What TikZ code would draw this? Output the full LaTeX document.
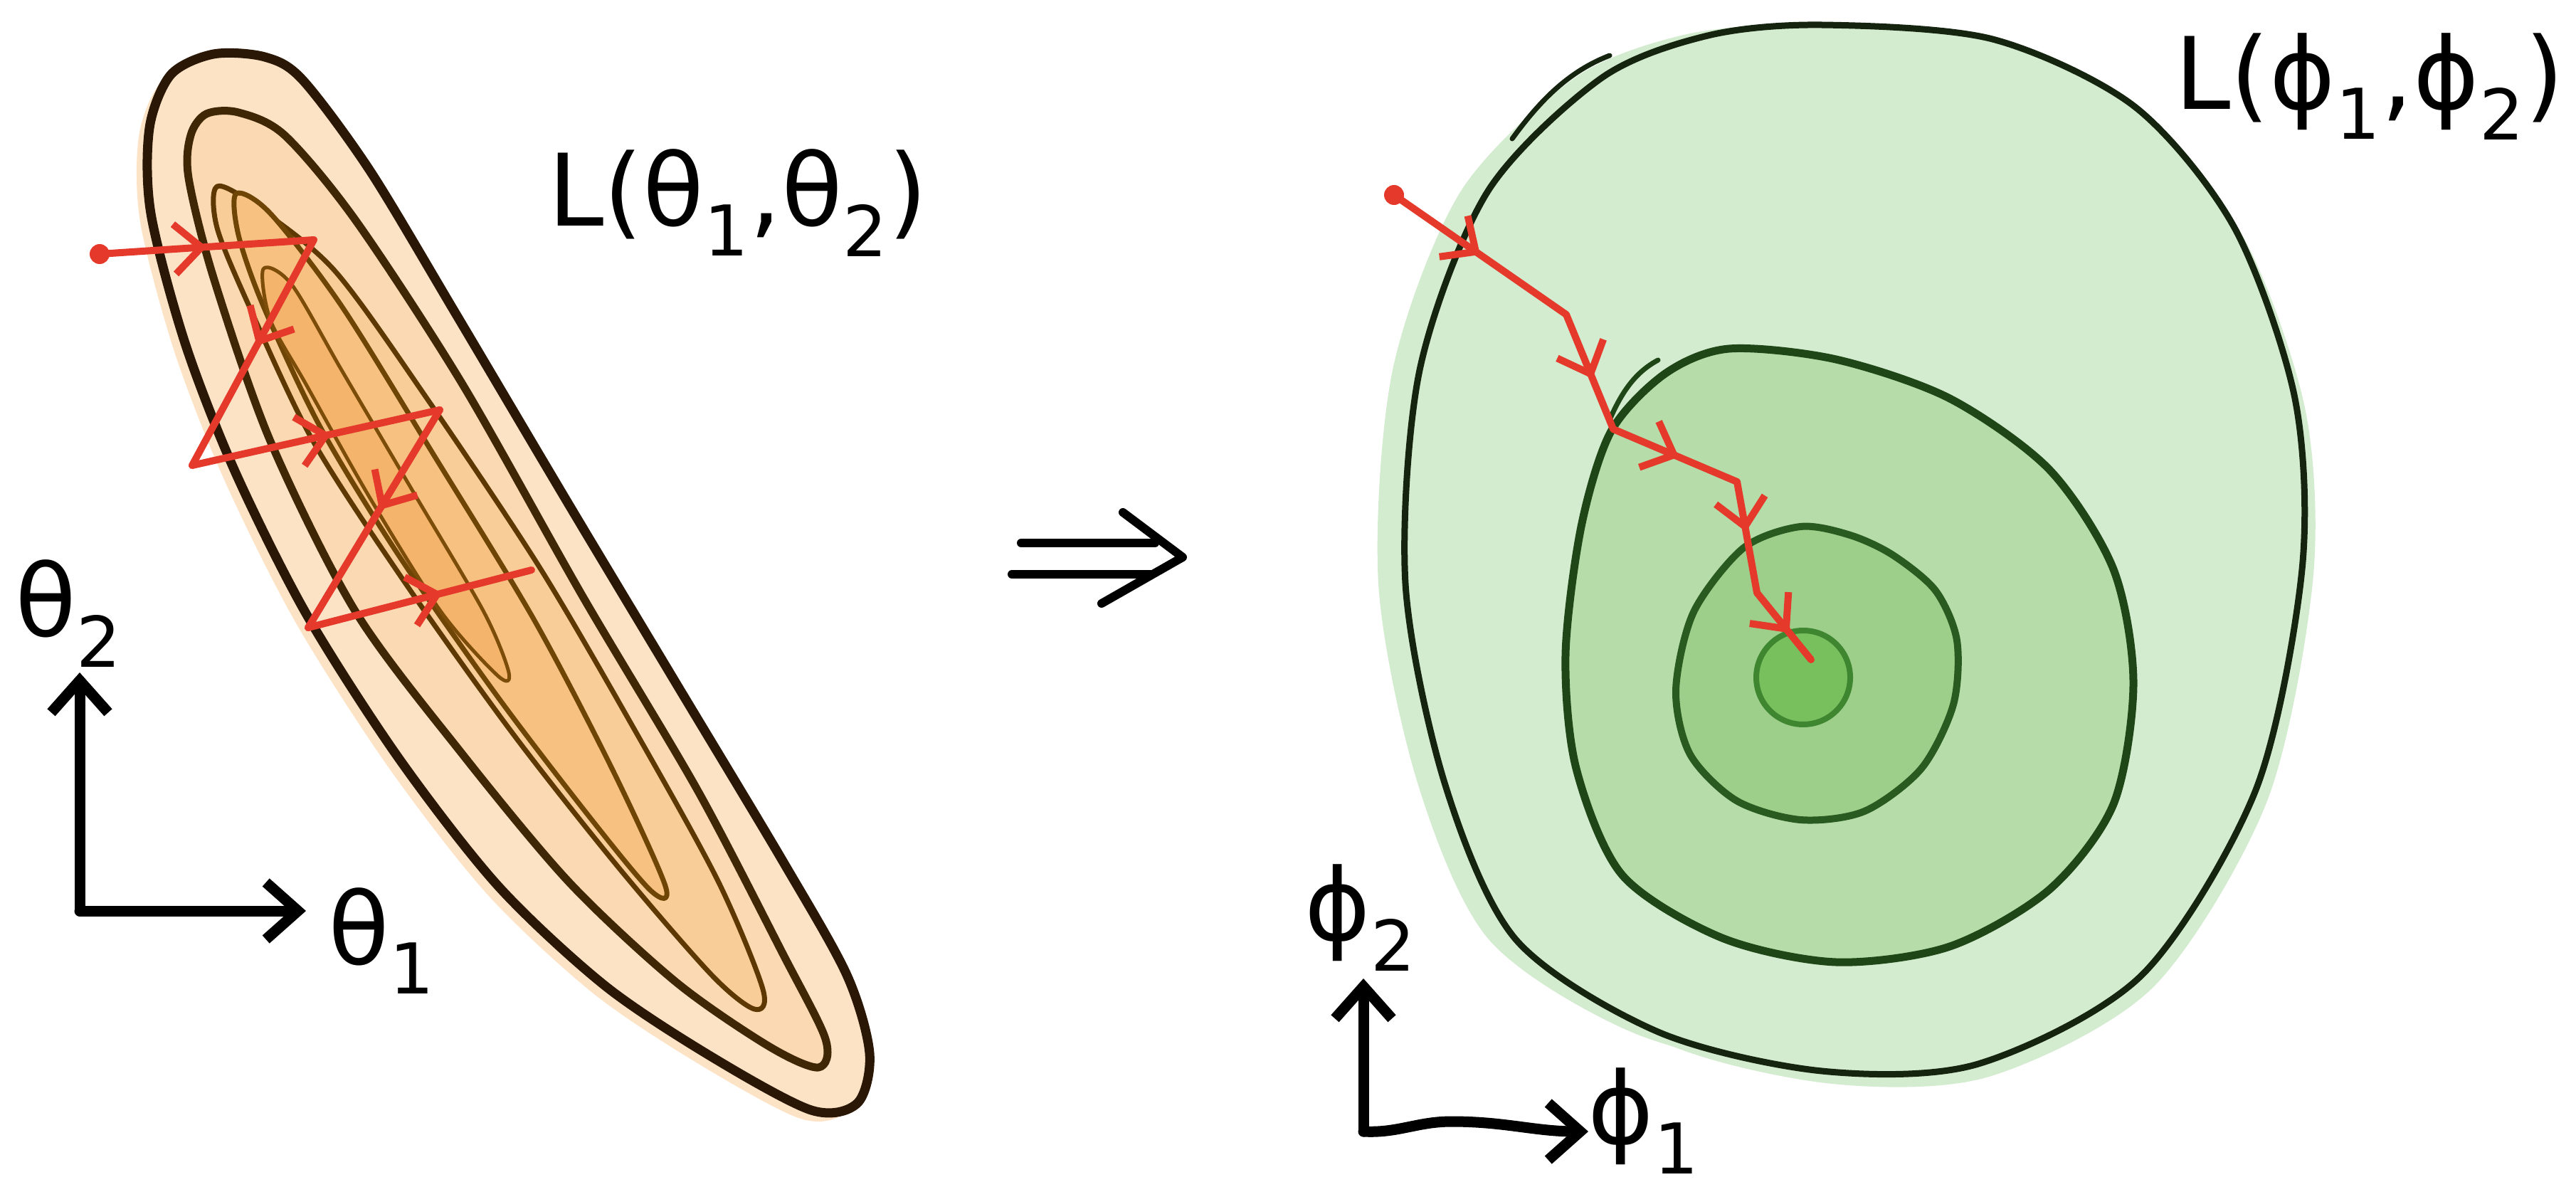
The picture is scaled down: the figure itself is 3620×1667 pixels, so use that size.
\documentclass[tikz,border=0pt]{standalone}
\usepackage{fontspec}
\setmainfont{DejaVu Sans}
\usetikzlibrary{arrows.meta, decorations.markings}
\definecolor{peachA}{HTML}{FDE3C6}
\definecolor{peachB}{HTML}{FBD9B2}
\definecolor{peachC}{HTML}{F9CD98}
\definecolor{peachD}{HTML}{F7C182}
\definecolor{peachE}{HTML}{F4B46C}
\definecolor{brownA}{HTML}{2A1706}
\definecolor{brownB}{HTML}{3F2604}
\definecolor{brownC}{HTML}{5E3803}
\definecolor{brownD}{HTML}{6F4506}
\definecolor{brownE}{HTML}{7C4D09}
\definecolor{greenA}{HTML}{D3EBCE}
\definecolor{greenB}{HTML}{B6DCA9}
\definecolor{greenC}{HTML}{9DCF8B}
\definecolor{greenD}{HTML}{78BF5E}
\definecolor{lineA}{HTML}{15240F}
\definecolor{lineB}{HTML}{1E4616}
\definecolor{lineC}{HTML}{295A1F}
\definecolor{lineD}{HTML}{3E8630}
\definecolor{stepred}{HTML}{E5392B}

\begin{document}
\begin{tikzpicture}[x=0.1mm, y=-0.1mm,
    loss/.style={line join=round, line cap=round},
    axis/.style={line width=1.5mm, line cap=round, line join=round, -{Straight Barb[length=4.5mm, width=8mm]}},
    gd/.style={line width=1mm, color=stepred, line cap=round, line join=round},
    midarrow/.style={decoration={markings, mark=at position #1 with {\arrow{Straight Barb[length=3.8mm, width=7mm]}}}, postaction={decorate}},
    lbl/.style={font=\fontsize{40}{48}\selectfont, inner sep=0pt}
]
\useasboundingbox (0,0) rectangle (3620,1667);

% ---- left: elongated loss surface L(theta1, theta2)
\def\thetaouter{plot[smooth cycle] coordinates {(300,76) (372,80) (425,112) (520,240) (640,440) (800,710) (950,960) (1100,1210) (1190,1370) (1222,1480) (1205,1550) (1140,1560) (1000,1485) (850,1385) (700,1245) (560,1065) (430,862) (330,662) (260,482) (212,300) (210,180) (240,105)}}
\fill[peachA, shift={(-15,12)}] \thetaouter;
\draw[loss, line width=1.3mm, brownA, fill=peachA] \thetaouter;
\draw[loss, line width=1.1mm, brownB, fill=peachB] plot[smooth cycle] coordinates {(290,160) (335,158) (400,190) (500,310) (650,540) (820,840) (980,1110) (1100,1340) (1160,1460) (1150,1500) (1080,1470) (950,1380) (800,1240) (650,1060) (500,860) (380,620) (300,390) (265,250) (268,190)};
\draw[loss, line width=0.7mm, brownC, fill=peachC] plot[smooth cycle] coordinates {(305,262) (360,290) (470,380) (600,560) (760,800) (900,1040) (1010,1240) (1072,1390) (1060,1418) (1000,1370) (870,1220) (720,1030) (570,820) (440,620) (350,430) (305,320)};
\draw[loss, line width=0.7mm, brownD, fill=peachD] plot[smooth cycle] coordinates {(332,272) (380,300) (480,430) (610,640) (750,870) (860,1080) (935,1245) (915,1252) (830,1150) (700,980) (560,780) (450,600) (370,430) (335,330)};
\draw[loss, line width=0.5mm, brownE, fill=peachE] plot[smooth cycle] coordinates {(370,378) (410,400) (480,520) (580,690) (680,860) (715,945) (700,950) (620,860) (520,700) (430,540) (380,450)};

% zig-zag descent
\coordinate (l0) at (140,357);
\coordinate (l1) at (441,337);
\coordinate (l2) at (270,654);
\coordinate (l3) at (618,576);
\coordinate (l4) at (433,882);
\coordinate (l5) at (747,801);
\fill[stepred] (l0) circle (1.4mm);
\draw[gd, midarrow=0.5] (l0) -- (l1);
\draw[gd, midarrow=0.47] (l1) -- (l2);
\draw[gd, midarrow=0.56] (l2) -- (l3);
\draw[gd, midarrow=0.46] (l3) -- (l4);
\draw[gd, midarrow=0.6] (l4) -- (l5);

\node[lbl] (Ltheta) at (1037,285) {L(θ\textsubscript{1},θ\textsubscript{2})};

% left axes
\coordinate (to) at (112,1280);
\coordinate (ty) at (112,945);
\coordinate (tx) at (430,1280);
\draw[axis] (to) -- (ty);
\draw[axis] (to) -- (tx);
\node[lbl] (thtwo) at (97,862) {θ\textsubscript{2}};
\node[lbl] (thone) at (537,1322) {θ\textsubscript{1}};

% ---- implies arrow
\coordinate (ia) at (1435,763);
\coordinate (ib) at (1623,763);
\coordinate (ic) at (1422,807);
\coordinate (id) at (1617,807);
\coordinate (iu) at (1578,720);
\coordinate (it) at (1662,783);
\coordinate (iw) at (1548,848);
\draw[loss, line width=1.2mm] (ia) -- (ib);
\draw[loss, line width=1.2mm] (ic) -- (id);
\draw[loss, line width=1.2mm] (iu) -- (it) -- (iw);

% ---- right: round loss surface L(phi1, phi2)
\def\phiouter{plot[smooth cycle] coordinates {(2560,35) (2800,55) (3000,150) (3140,320) (3225,560) (3235,800) (3170,1110) (3010,1370) (2780,1495) (2560,1505) (2330,1450) (2130,1320) (2030,1100) (1975,820) (1995,520) (2090,270) (2250,110) (2400,50)}}
\fill[greenA, shift={(-38,0)}] \phiouter;
\fill[greenA, shift={(15,18)}] \phiouter;
\draw[loss, line width=0.9mm, lineA, fill=greenA] \phiouter;
\draw[loss, line width=0.7mm, lineA] (2125,195) .. controls (2165,140) and (2205,100) .. (2262,78);
\draw[loss, line width=1.1mm, lineB, fill=greenB] plot[smooth cycle] coordinates {(2264,606) (2340,525) (2430,490) (2580,505) (2740,560) (2880,660) (2970,800) (2998,960) (2970,1130) (2880,1250) (2740,1330) (2580,1352) (2420,1318) (2280,1230) (2215,1080) (2200,920) (2222,740)};
\draw[loss, line width=0.7mm, lineB] (2262,590) .. controls (2280,548) and (2300,522) .. (2330,506);
\draw[loss, line width=1mm, lineC, fill=greenC] plot[smooth cycle] coordinates {(2450,770) (2530,740) (2600,752) (2660,780) (2720,830) (2750,900) (2745,990) (2700,1080) (2620,1140) (2530,1152) (2440,1125) (2375,1060) (2355,970) (2380,860)};
\draw[line width=0.8mm, lineD, fill=greenD] (2534,952) circle (6.6mm);

% descent path
\coordinate (r0) at (1959,274);
\coordinate (r1) at (2201,442);
\coordinate (r2) at (2267,603);
\coordinate (r3) at (2441,677);
\coordinate (r4) at (2469,833);
\coordinate (r5) at (2545,927);
\fill[stepred] (r0) circle (1.4mm);
\draw[gd, midarrow=0.5] (r0) -- (r1);
\draw[gd, midarrow=0.56] (r1) -- (r2);
\draw[gd, midarrow=0.53] (r2) -- (r3);
\draw[gd, midarrow=0.45] (r3) -- (r4);
\draw[gd, midarrow=0.6] (r4) -- (r5);

\node[lbl] (Lphi) at (3330,122) {L(ϕ\textsubscript{1},ϕ\textsubscript{2})};

% right axes
\coordinate (po) at (1916,1590);
\coordinate (py) at (1916,1375);
\coordinate (px) at (2232,1590);
\draw[axis] (po) -- (py);
\draw[axis] (po) to[out=-3, in=180] (2040,1576) to[out=0, in=180] (px);
\node[lbl] (phtwo) at (1912,1290) {ϕ\textsubscript{2}};
\node[lbl] (phone) at (2310,1575) {ϕ\textsubscript{1}};
\end{tikzpicture}
\end{document}
